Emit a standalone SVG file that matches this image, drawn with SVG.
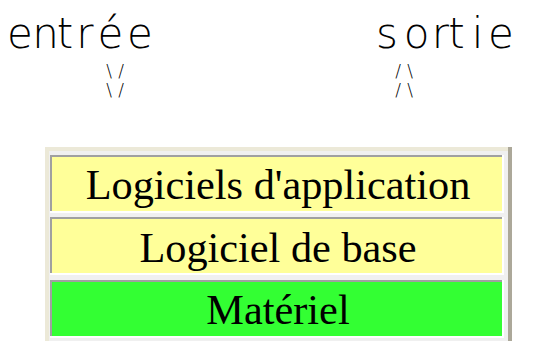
<svg xmlns="http://www.w3.org/2000/svg" width="550" height="341" viewBox="0 0 550 341">
<style>
.lbl{font-family:"DejaVu Sans","Liberation Sans",sans-serif;font-weight:200;fill:#000;text-anchor:middle}
.big{font-size:42px}
.arr{font-size:17px}
.cell{font-family:"Liberation Serif","Times New Roman",serif;font-size:42.3px;fill:#000;text-anchor:middle}
.hi{fill:#A0A0A0}
.lo{fill:#FFFFFF}
</style>
<rect width="550" height="341" fill="#FFFFFF"/>
<g id="labels">
<text class="lbl big" x="20 45.5 65 85 110.5 140" y="48">entrée</text>
<text class="lbl big" x="387 416.5 440.5 456.5 477.5 501" y="48">sortie</text>
</g>
<g id="connectors">
<text class="lbl arr" x="109 121" y="76.5">\/</text>
<text class="lbl arr" x="109 121" y="96">\/</text>
<text class="lbl arr" x="398 410" y="76.5">/\</text>
<text class="lbl arr" x="398 410" y="96">/\</text>
</g>
<g id="table">
<rect x="45" y="147" width="467" height="200" fill="#ACA899"/>
<rect x="45" y="147" width="463" height="200" fill="#ECE9D8"/>
<rect x="49" y="151" width="459" height="200" fill="#F0F0F0"/>
</g>
<g id="app">
<rect x="50" y="155" width="454" height="58" class="lo"/>
<rect x="50" y="155" width="452" height="56" class="hi"/>
<rect x="52" y="157" width="450" height="54" fill="#FFFF99"/>
<text class="cell" x="278" y="199">Logiciels d'application</text>
</g>
<g id="base">
<rect x="50" y="217" width="454" height="58" class="lo"/>
<rect x="50" y="217" width="452" height="56" class="hi"/>
<rect x="52" y="219" width="450" height="54" fill="#FFFF99"/>
<text class="cell" x="278" y="261.5">Logiciel de base</text>
</g>
<g id="materiel">
<rect x="50" y="280" width="454" height="58" class="lo"/>
<rect x="50" y="280" width="452" height="56" class="hi"/>
<rect x="52" y="282" width="450" height="54" fill="#33FF33"/>
<text class="cell" x="278" y="324">Matériel</text>
</g>
</svg>
